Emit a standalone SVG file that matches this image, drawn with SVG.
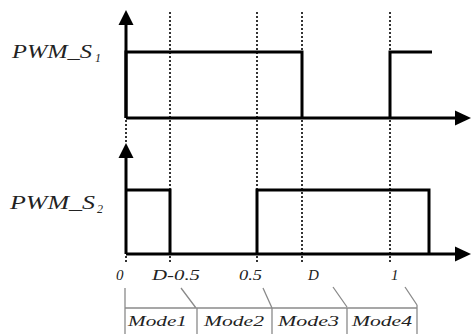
<svg xmlns="http://www.w3.org/2000/svg" width="471" height="336" viewBox="0 0 471 336">
<defs>
<style>
.ax{stroke:#000;stroke-width:3;fill:none}
.sig{stroke:#000;stroke-width:3;fill:none;stroke-linejoin:miter}
.dot{stroke:#333;stroke-width:2;stroke-dasharray:2 2;fill:none}
.thin{stroke:#8a8a8a;stroke-width:1.3;fill:none}
.lbl{font-family:"Liberation Serif",serif;font-style:italic;fill:#222}
.head{fill:#000}
</style>
</defs>
<rect width="471" height="336" fill="#fff"/>
<g id="connectors">
<path class="dot" d="M170 12V263M257 12V263M302 12V263M390 12V263M126 120V143M126 256V263"/>
<path class="ax" d="M126 118V22M126 118H458M126 254V155M126 254H458"/>
<polygon class="head" points="126,10 118.5,25 133.5,25"/>
<polygon class="head" points="126,143 118.5,158 133.5,158"/>
<polygon class="head" points="471,118 455,110.5 455,125.5"/>
<polygon class="head" points="471,254 455,246.5 455,261.5"/>
<path class="thin" d="M125 288V334M125 308H417M197 308V334M272 308V334M347 308V334M417 305V334M181 288L196 308M263 288L272 308M333 287L347 307M405 287L417 305"/>
</g>
<g id="pwm_s1">
<path class="sig" d="M126 118V52H302V118" stroke-width="2.5"/>
<path class="sig" d="M390 118V52H432"/>
<text class="lbl" x="12" y="58" font-size="19" textLength="80" lengthAdjust="spacingAndGlyphs">PWM_S</text><text class="lbl" x="95" y="62" font-size="12">1</text>
</g>
<g id="pwm_s2">
<path class="sig" d="M126 190H170V254"/>
<path class="sig" d="M257 254V190H429V254"/>
<text class="lbl" x="10" y="209" font-size="19" textLength="85" lengthAdjust="spacingAndGlyphs">PWM_S</text><text class="lbl" x="97" y="213" font-size="12">2</text>
</g>
<g id="ticks" class="lbl" font-size="15">
<text x="116" y="280">0</text>
<text x="152" y="280" textLength="48" lengthAdjust="spacingAndGlyphs">D-0.5</text>
<text x="239" y="280" textLength="23" lengthAdjust="spacingAndGlyphs">0.5</text>
<text x="308" y="280">D</text>
<text x="391" y="280">1</text>
</g>
<g id="modes" class="lbl" font-size="15">
<text x="128" y="326" textLength="59" lengthAdjust="spacingAndGlyphs">Mode1</text>
<text x="204" y="326" textLength="60" lengthAdjust="spacingAndGlyphs">Mode2</text>
<text x="278" y="326" textLength="61" lengthAdjust="spacingAndGlyphs">Mode3</text>
<text x="352" y="326" textLength="60" lengthAdjust="spacingAndGlyphs">Mode4</text>
</g>
</svg>
